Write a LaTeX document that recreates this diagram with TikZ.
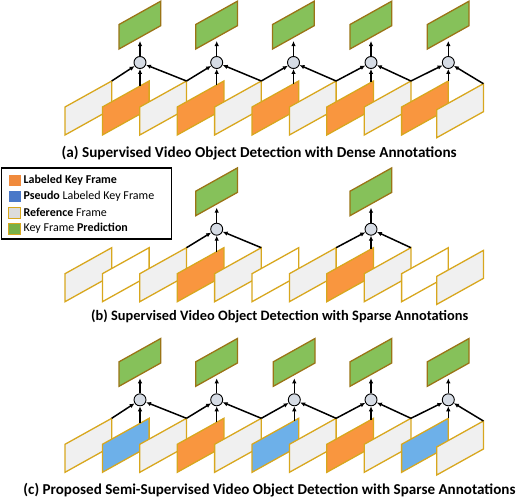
\documentclass[tikz,border=0pt]{standalone}
\usepackage{fontspec}
\setmainfont{Carlito}
\usetikzlibrary{arrows.meta,calc}
\definecolor{fgold}{HTML}{D8A71E}
\definecolor{refgray}{HTML}{F0F0F0}
\definecolor{korange}{HTML}{F9963F}
\definecolor{pblue}{HTML}{6DB0E9}
\definecolor{pgreen}{HTML}{86C15A}
\definecolor{gborder}{HTML}{9A7416}
\definecolor{cfill}{HTML}{D6DCE5}
\definecolor{lorange}{HTML}{F08A3C}
\definecolor{lblue}{HTML}{4A78C8}
\definecolor{lgray}{HTML}{DCDCDC}
\definecolor{lgreen}{HTML}{78B048}
\tikzset{
  framestyle/.style={draw=fgold, line width=1.3pt, line join=miter},
  predstyle/.style={draw=gborder, line width=1.3pt, fill=pgreen},
  fuse/.style={circle, draw=black, line width=0.9pt, fill=cfill, minimum size=12pt, inner sep=0pt},
  arr/.style={-{Latex[length=5pt,width=4.5pt]}, line width=1.5pt, black},
  caption/.style={font=\bfseries\fontsize{13}{15}\selectfont, inner sep=0pt},
  legtext/.style={font=\fontsize{12}{14}\selectfont, inner sep=0pt, anchor=west},
  legbox/.style={draw=black, line width=1.3pt},
  legsq/.style={minimum width=12pt, minimum height=11pt, inner sep=0pt},
}
\newcommand{\drawrow}[3]{% #1 row name, #2 y0, #3 colour list
  \foreach \c [count=\i from 0] in {#3} {
    \pgfmathsetmacro\fx{65+37.4*\i-(\i==10)*2.3}
    \pgfmathsetmacro\fy{#2+(\i==10)*2.7}
    \draw[framestyle, fill=\c] (\fx,\fy) coordinate (#1\i-bl) -- ++(0,-28) coordinate (#1\i-tl)
      -- ++(46.7,-26) coordinate (#1\i-tr) -- ++(0,28) coordinate (#1\i-br) -- cycle;
  }
}
\newcommand{\drawfuse}[4]{% #1 row, #2 index j, #3 cx, #4 y0
  \pgfmathtruncatemacro\oi{2*#2+1}
  \pgfmathtruncatemacro\li{2*#2}
  \pgfmathtruncatemacro\ri{2*#2+2}
  \pgfmathsetmacro\ox{65+37.4*\oi}
  \pgfmathsetmacro\by{#4-28-26*(#3-\ox)/46.7}
  \coordinate (#1-base#2) at (#3,\by);
  \node[fuse] (#1-c#2) at (#3,#4-72.5) {};
  \draw[predstyle] (#3-21,#4-86) coordinate (#1-g#2-bl) -- ++(0,-24.5) -- ++(41.7,-23.3) -- ++(0,24.5) -- cycle;
  \coordinate (#1-gb#2) at (#3,#4-94);
  \draw[arr] (#1\li-tr) -- (#1-c#2);
  \draw[arr] (#1\ri-tr) -- (#1-c#2);
  \draw[arr] (#1-base#2) -- (#1-c#2);
  \draw[arr] (#1-c#2) -- (#1-gb#2);
}
\begin{document}
\begin{tikzpicture}[x=1pt,y=-1pt]
\useasboundingbox (0,0) rectangle (518,498);
% row (a)
\drawrow{a}{135}{refgray,korange,refgray,korange,refgray,korange,refgray,korange,refgray,korange,refgray}
\foreach \cx [count=\j from 0] in {140,216.7,293.5,371,448.3} {\drawfuse{a}{\j}{\cx}{135}}
\node[caption] (capa) at (259.2,153.3) {\resizebox{395pt}{!}{(a) Supervised Video Object Detection with Dense Annotations}};
% row (b)
\drawrow{b}{301.7}{refgray,white,refgray,korange,refgray,white,refgray,korange,refgray,white,refgray}
\drawfuse{b}{1}{216.7}{301.7}
\drawfuse{b}{3}{371}{301.7}
\node[caption] (capb) at (279.7,316.7) {\resizebox{377pt}{!}{(b) Supervised Video Object Detection with Sparse Annotations}};
% row (c)
\drawrow{c}{472.3}{refgray,pblue,refgray,korange,refgray,pblue,refgray,korange,refgray,pblue,refgray}
\foreach \cx [count=\j from 0] in {140,216.7,294.3,371,448.3} {\drawfuse{c}{\j}{\cx}{472.3}}
\node[caption] (capc) at (269.5,490) {\resizebox{492pt}{!}{(c) Proposed Semi-Supervised Video Object Detection with Sparse Annotations}};
% legend
\draw[legbox] (1.7,168) rectangle (171.7,239);
\node[legsq, fill=lorange] (sq1) at (14.7,180.7) {};
\node[legsq, fill=lblue] (sq2) at (14.7,196.7) {};
\node[legsq, fill=lgray, draw=fgold, line width=0.8pt] (sq3) at (14.7,212.7) {};
\node[legsq, fill=lgreen, draw=fgold, line width=0.8pt] (sq4) at (14.7,228.5) {};
\node[legtext] (t1) at (23.3,180.7) {\textbf{Labeled Key Frame}};
\node[legtext] (t2) at (23.3,196.7) {\textbf{Pseudo} Labeled Key Frame};
\node[legtext] (t3) at (23.3,212.7) {\textbf{Reference} Frame};
\node[legtext] (t4) at (23.3,228.5) {Key Frame \textbf{Prediction}};
\end{tikzpicture}
\end{document}
